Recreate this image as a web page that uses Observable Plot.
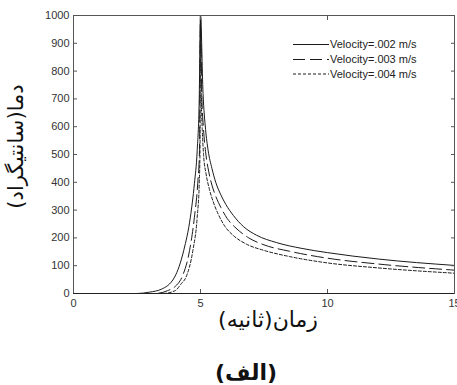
<!DOCTYPE html>
<html>
<head>
<meta charset="utf-8">
<script src="https://cdn.jsdelivr.net/npm/d3@7"></script>
<script src="https://cdn.jsdelivr.net/npm/@observablehq/plot@0.6"></script>
<style>
  body { margin: 0; background: #fff; }
  #chart { position: relative; width: 457px; height: 385px; }
  #legend { position: absolute; left: 0; top: 0; }
</style>
</head>
<body>
<div id="chart"></div>
<script>
// Data (time in s, temperature in °C)
const t002 = [0, 2.5, 3.0, 3.45, 3.98, 4.34, 4.6, 4.76, 4.87, 4.95, 5.0, 5.1, 5.2, 5.3, 5.45, 5.6, 5.8, 6.0, 6.3, 6.7, 7.2, 8.0, 9.0, 10, 12, 15];
const v002 = [0, 0, 5, 15, 59, 155, 274, 395, 514, 700, 1000, 720, 590, 515, 450, 400, 355, 320, 280, 240, 210, 183, 162, 147, 124, 101];
const t003 = [0, 3.2, 3.7, 4.0, 4.27, 4.57, 4.76, 4.89, 4.96, 5.0, 5.05, 5.12, 5.2, 5.32, 5.45, 5.6, 5.8, 6.05, 6.4, 6.9, 7.5, 8.5, 10, 12, 15];
const v003 = [0, 0, 10, 25, 59, 155, 274, 395, 514, 1000, 720, 590, 510, 440, 390, 350, 310, 270, 235, 200, 175, 152, 127, 106, 84];
const t004 = [0, 3.5, 4.0, 4.24, 4.43, 4.7, 4.87, 4.95, 4.98, 5.0, 5.03, 5.07, 5.12, 5.22, 5.35, 5.5, 5.7, 5.95, 6.3, 6.8, 7.5, 8.5, 10, 12, 15];
const v004 = [0, 0, 10, 35, 59, 155, 274, 395, 514, 1000, 720, 590, 500, 430, 375, 330, 285, 243, 208, 178, 155, 133, 110, 92, 73];

const seriesLabels = ["Velocity=.002 m/s", "Velocity=.003 m/s", "Velocity=.004 m/s"];
const seriesDash = ["none", "12,5", "3,2"];
const xTicks = [0, 5, 10, 15];
const yTicks = [0, 100, 200, 300, 400, 500, 600, 700, 800, 900, 1000];
const xTitle = "زمان(ثانیه)";
const yTitle = "دما(سانتیگراد)";
const caption = "(الف)";

const toRows = (ts, vs) => ts.map((t, i) => ({t, v: vs[i]}));
const series = [toRows(t002, v002), toRows(t003, v003), toRows(t004, v004)];

const lineColor = "#1a1a1a";
const axisColor = "#555";
const persianFont = "'DejaVu Sans', 'Noto Sans', sans-serif";

const plot = Plot.plot({
  width: 457,
  height: 385,
  marginTop: 15,
  marginBottom: 92,
  marginLeft: 73,
  marginRight: 3,
  style: {fontFamily: "'Liberation Sans', Arial, sans-serif", fontSize: "11px", color: "#333", background: "#fff"},
  x: {domain: [0, 15]},
  y: {domain: [0, 1000]},
  marks: [
    ...series.map((rows, i) => Plot.line(rows, {
      x: "t", y: "v", stroke: lineColor, strokeWidth: 1,
      strokeDasharray: seriesDash[i], curve: "monotone-x", clip: true
    })),
    Plot.axisX({ticks: xTicks, tickSize: -4, tickPadding: 10, tickFormat: "d", stroke: axisColor, fill: "#333", label: null}),
    Plot.axisX({anchor: "top", ticks: xTicks, tickSize: -4, tickFormat: () => "", stroke: axisColor, label: null}),
    Plot.axisY({ticks: yTicks, tickSize: -4, tickPadding: 8, tickFormat: "d", stroke: axisColor, fill: "#333", label: null}),
    Plot.axisY({anchor: "right", ticks: yTicks, tickSize: -4, tickFormat: () => "", stroke: axisColor, label: null}),
    Plot.frame({stroke: axisColor, strokeWidth: 1}),
    Plot.ruleY([0], {stroke: "#222", strokeWidth: 1.2}),
    Plot.text([yTitle], {text: d => d, frameAnchor: "left", textAnchor: "middle", dx: -57, dy: -8, rotate: -90,
      fontSize: 21, fill: "#111", fontFamily: persianFont, lineAnchor: "middle"}),
    Plot.text([xTitle], {text: d => d, frameAnchor: "bottom", textAnchor: "middle", dx: 4, dy: 26,
      fontSize: 22, fill: "#111", fontFamily: persianFont, lineAnchor: "middle"}),
    Plot.text([caption], {text: d => d, frameAnchor: "bottom", textAnchor: "middle", dx: -18, dy: 79,
      fontSize: 22, fontWeight: "bold", fill: "#111", fontFamily: persianFont, lineAnchor: "middle"})
  ]
});
document.getElementById("chart").appendChild(plot);

// Legend overlay (top-right, no box)
const leg = d3.select("#chart").append("svg")
  .attr("id", "legend").attr("width", 457).attr("height", 100);
const rowY = [44.5, 59.5, 74];
seriesLabels.forEach((lab, i) => {
  leg.append("line").attr("x1", 293).attr("x2", 329).attr("y1", rowY[i]).attr("y2", rowY[i])
    .attr("stroke", lineColor).attr("stroke-width", 1)
    .attr("stroke-dasharray", seriesDash[i] === "none" ? null : seriesDash[i]);
  leg.append("text").attr("x", 330).attr("y", rowY[i]).attr("dy", "0.35em")
    .attr("font-family", "'Liberation Sans', Arial, sans-serif").attr("font-size", 11)
    .attr("fill", "#222").text(lab);
});
</script>
</body>
</html>
